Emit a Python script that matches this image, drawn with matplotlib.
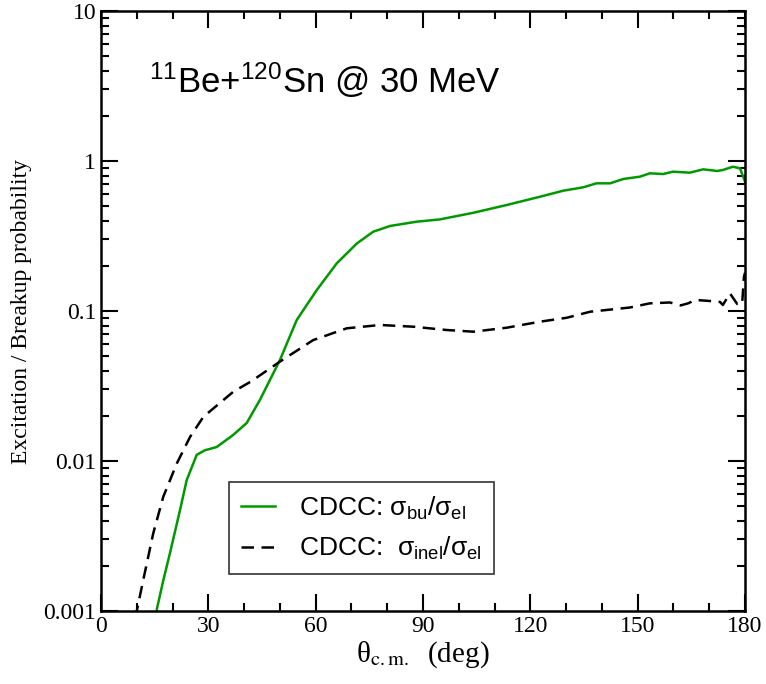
import matplotlib
matplotlib.use("Agg")
import matplotlib.pyplot as plt
from matplotlib.ticker import MultipleLocator, LogLocator, NullFormatter, FixedFormatter, FixedLocator

plt.rcParams['mathtext.fontset'] = 'custom'
plt.rcParams['mathtext.rm'] = 'Liberation Sans'
plt.rcParams['mathtext.it'] = 'Liberation Sans'

# breakup / elastic (green)
bu_x = [14.9, 15.57, 17.4, 19.28, 22.08, 23.95, 26.75, 29.07, 32.34, 36.9, 40.7,
        44.4, 50.0, 54.7, 60.3, 65.9, 71.5, 76.1, 80.8, 88.2, 94.7, 104.1, 113.4,
        122.7, 129.2, 134.8, 138.5, 142.3, 146.0, 150.6, 153.4, 157.1, 159.9,
        164.6, 168.3, 172.2, 173.8, 176.6, 178.6, 180.0]
bu_y = [0.0008, 0.00102, 0.0016, 0.00244, 0.00471, 0.00747, 0.011, 0.0118, 0.0124,
        0.0149, 0.0179, 0.0255, 0.0471, 0.0871, 0.138, 0.208, 0.282, 0.338, 0.369,
        0.394, 0.408, 0.452, 0.509, 0.578, 0.634, 0.668, 0.71, 0.71, 0.759, 0.786,
        0.828, 0.819, 0.849, 0.836, 0.88, 0.858, 0.871, 0.916, 0.894, 0.728]

# inelastic / elastic (black dashed)
inel_x = [9.7, 9.98, 11.8, 14.6, 17.4, 21.2, 24.9, 28.6, 34.2, 37.0, 42.0, 50.0,
          59.3, 68.7, 78.0, 87.3, 96.6, 104.1, 113.4, 122.7, 130.2, 136.7, 141.3,
          147.8, 153.4, 159.0, 162.0, 164.1, 166.1, 169.4, 173.0, 173.8, 175.8,
          177.8, 179.2, 179.7, 180.0]
inel_y = [0.0009, 0.001, 0.00161, 0.0033, 0.00578, 0.00966, 0.0145, 0.0197, 0.0255,
          0.029, 0.034, 0.046, 0.064, 0.0767, 0.0807, 0.0786, 0.0747, 0.0728, 0.0774,
          0.0849, 0.0902, 0.0989, 0.1016, 0.1055, 0.1125, 0.114, 0.109, 0.1125,
          0.1185, 0.117, 0.115, 0.1097, 0.131, 0.1115, 0.1115, 0.169, 0.18]

fig = plt.figure(figsize=(7.66, 6.84), dpi=100)
ax = fig.add_axes([0.1319, 0.1067, 0.8407, 0.8772])

ax.plot(bu_x, bu_y, color='#009900', lw=1.8, label=r'CDCC: $\sigma_{\rm bu}/\sigma_{\rm el}$')
ax.plot(inel_x, inel_y, color='black', lw=1.8, dashes=(5, 3),
        label=r'CDCC:  $\sigma_{\rm inel}/\sigma_{\rm el}$')

ax.set_yscale('log')
ax.set_xlim(0, 180)
ax.set_ylim(0.001, 10)

ax.xaxis.set_major_locator(MultipleLocator(30))
ax.xaxis.set_minor_locator(MultipleLocator(10))
ax.yaxis.set_major_locator(FixedLocator([0.001, 0.01, 0.1, 1, 10]))
ax.yaxis.set_major_formatter(FixedFormatter(['0.001', '0.01', '0.1', '1', '10']))
ax.yaxis.set_minor_locator(LogLocator(base=10, subs=range(2, 10)))
ax.yaxis.set_minor_formatter(NullFormatter())

ax.tick_params(which='both', direction='in', top=True, right=True, width=1.5)
ax.tick_params(which='major', length=12)
ax.tick_params(which='minor', length=6)
for lab in ax.get_xticklabels() + ax.get_yticklabels():
    lab.set_family('Liberation Serif')
    lab.set_fontsize(17)
for s in ax.spines.values():
    s.set_linewidth(1.8)

ax.set_xlabel(r'θ$_{\mathrm{c.m.}}$  (deg)', family='Liberation Serif', fontsize=21, labelpad=2,
              math_fontfamily='stix')
ax.set_ylabel('Excitation / Breakup probability', family='Liberation Serif', fontsize=17, labelpad=8)

ax.text(0.0745, 0.864, r'$^{11}$Be+$^{120}$Sn @ 30 MeV', transform=ax.transAxes,
        family='Liberation Sans', fontsize=25, va='baseline', ha='left')

leg = ax.legend(loc='lower left', bbox_to_anchor=(0.199, 0.062), prop={'family': 'Liberation Sans', 'size': 19},
                frameon=True, fancybox=False, edgecolor='black', handlelength=1.3,
                borderpad=0.45, labelspacing=0.5, handletextpad=0.9, borderaxespad=0)
leg.get_frame().set_linewidth(1.2)

fig.savefig('out.png', dpi=100)
